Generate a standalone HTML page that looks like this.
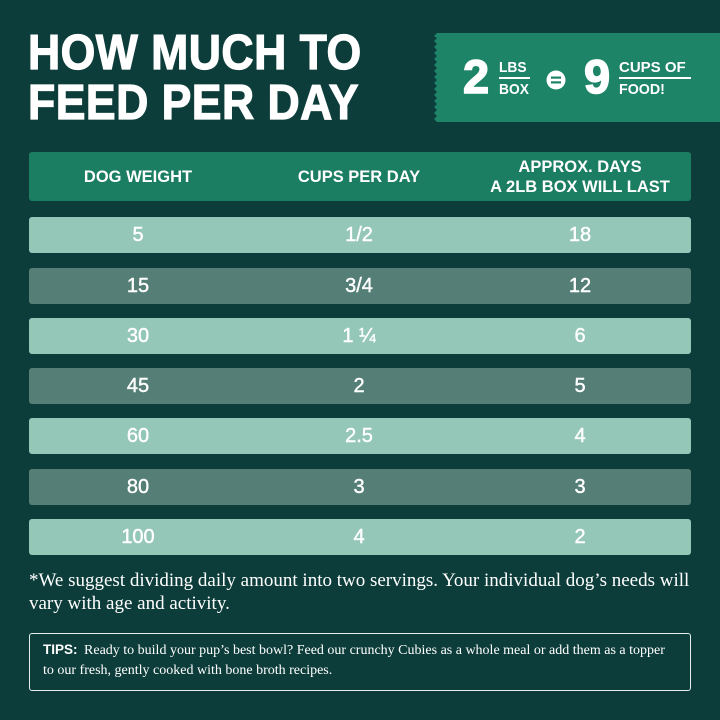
<!DOCTYPE html>
<html><head><meta charset="utf-8"><style>
*{margin:0;padding:0;box-sizing:border-box}
html,body{width:720px;height:720px;overflow:hidden;background:#0d3d3a}
body{position:relative;font-family:"Liberation Sans",sans-serif;color:#fff}
.t{position:absolute;white-space:nowrap}
.title{left:28px;font-weight:bold;font-size:49px;line-height:49px;transform:scaleX(0.91);transform-origin:left top;letter-spacing:0.5px;-webkit-text-stroke:1.2px #fff}
.hdr{position:absolute;left:29px;top:152px;width:662px;height:49px;background:#1b7d62;border-radius:3px}
.hc{position:absolute;font-weight:bold;font-size:16.5px;line-height:20px;text-align:center;transform:translateX(-50%);white-space:nowrap}
.row{position:absolute;left:29px;width:662px;height:36px;border-radius:3px}
.l{background:#95c7b8}.d{background:#557f76}
.c{position:absolute;top:0;height:36px;line-height:36px;font-size:20px;transform:translateX(-50%);white-space:nowrap;-webkit-text-stroke:0.4px #fff}
.c1{left:109px}.c2{left:330px}.c3{left:551px}
.foot{position:absolute;left:29px;top:569px;font-family:"Liberation Serif",serif;font-size:19px;line-height:23px;white-space:nowrap}
.tips{position:absolute;left:29px;top:633px;width:662px;height:58px;border:1.5px solid #e8eeec;border-radius:3px}
.tipt{position:absolute;left:13px;top:6px;font-family:"Liberation Serif",serif;font-size:14px;line-height:19.5px;white-space:nowrap}
.tipt b{font-family:"Liberation Sans",sans-serif;font-weight:bold;font-size:13.5px;margin-right:3px}
.bn{font-weight:bold}
.big{-webkit-text-stroke:1.5px #fff}
</style></head><body>
<div class="t title" style="top:29px">HOW MUCH TO</div>
<div class="t title" style="top:79px">FEED PER DAY</div>

<svg style="position:absolute;left:0;top:0" width="720" height="720">
<polygon fill="#1e8468" points="437,33 720,33 720,122 437,122 434,119 437,116 434,113 437,110 434,107 437,104 434,101 437,98 434,95 437,92 434,89 437,86 434,83 437,80 434,77 437,74 434,71 437,68 434,65 437,62 434,59 437,56 434,53 437,50 434,47 437,44 434,41 437,38 434,36"/>
<rect x="499" y="77" width="31" height="2" fill="#fff"/>
<rect x="619" y="77" width="72" height="2" fill="#fff"/>
<circle cx="556" cy="80" r="9.5" fill="#fff"/>
<rect x="551" y="76.5" width="10" height="2.2" fill="#1e8468"/>
<rect x="551" y="81.3" width="10" height="2.2" fill="#1e8468"/>
</svg>
<div class="t bn big" style="left:463px;top:53px;font-size:47px;line-height:47px;">2</div>
<div class="t bn" style="left:499px;top:60px;font-size:15px;line-height:15px;transform:scaleX(0.92);transform-origin:left top">LBS</div>
<div class="t bn" style="left:499px;top:82px;font-size:15px;line-height:15px;transform:scaleX(0.92);transform-origin:left top">BOX</div>
<div class="t bn big" style="left:584px;top:53px;font-size:47px;line-height:47px;">9</div>
<div class="t bn" style="left:619px;top:60px;font-size:15px;line-height:15px;transform:scaleX(1.0);transform-origin:left top">CUPS OF</div>
<div class="t bn" style="left:619px;top:82px;font-size:15px;line-height:15px;transform:scaleX(0.95);transform-origin:left top">FOOD!</div>

<div class="hdr">
<div class="hc" style="left:109px;top:15px">DOG WEIGHT</div>
<div class="hc" style="left:330px;top:15px">CUPS PER DAY</div>
<div class="hc" style="left:551px;top:5px">APPROX. DAYS<br>A 2LB BOX WILL LAST</div>
</div>

<div class="row l" style="top:217px"><div class="c c1">5</div><div class="c c2">1/2</div><div class="c c3">18</div></div>
<div class="row d" style="top:268px"><div class="c c1">15</div><div class="c c2">3/4</div><div class="c c3">12</div></div>
<div class="row l" style="top:318px"><div class="c c1">30</div><div class="c c2">1 ¼</div><div class="c c3">6</div></div>
<div class="row d" style="top:368px"><div class="c c1">45</div><div class="c c2">2</div><div class="c c3">5</div></div>
<div class="row l" style="top:418px"><div class="c c1">60</div><div class="c c2">2.5</div><div class="c c3">4</div></div>
<div class="row d" style="top:469px"><div class="c c1">80</div><div class="c c2">3</div><div class="c c3">3</div></div>
<div class="row l" style="top:519px"><div class="c c1">100</div><div class="c c2">4</div><div class="c c3">2</div></div>

<div class="foot">*We suggest dividing daily amount into two servings. Your individual dog’s needs will<br>vary with age and activity.</div>

<div class="tips"><div class="tipt"><b>TIPS:</b> Ready to build your pup’s best bowl? Feed our crunchy Cubies as a whole meal or add them as a topper<br>to our fresh, gently cooked with bone broth recipes.</div></div>
</body></html>
